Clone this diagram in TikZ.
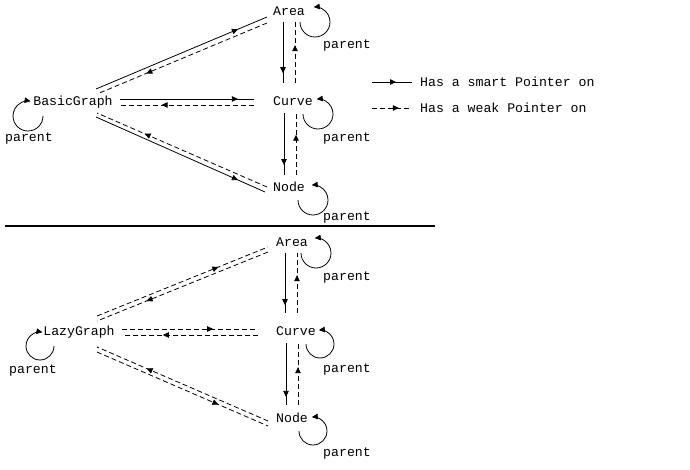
\documentclass[tikz,border=0pt]{standalone}
\usepackage{fontspec}
\setmonofont{Liberation Mono}
\usetikzlibrary{arrows.meta,decorations.markings,calc}
\tikzset{
 lbl/.style={font=\ttfamily\fontsize{13.2}{15}\selectfont, inner sep=0pt, anchor=mid, yshift=-2pt},
 smart/.style={line width=0.8pt, postaction={decorate},
   decoration={markings, mark=at position #1 with {\arrow{Triangle[length=6pt,width=5.5pt]}}}},
 weak/.style={smart=#1, dash pattern=on 5pt off 3pt},
 loopline/.style={line width=0.8pt, -{Triangle[length=6pt,width=5.5pt]}},
 sepline/.style={line width=2pt},
}
\begin{document}
\begin{tikzpicture}[x=1pt,y=1pt]
\useasboundingbox (0,0) rectangle (690,-470);
% ---------- top half ----------
\node[lbl] (areaT) at (289,-11) {Area};
\node[lbl] (curveT) at (293,-101) {Curve};
\node[lbl] (nodeT) at (289,-187) {Node};
\node[lbl] (bg) at (73,-101) {BasicGraph};
\node[lbl] (pAT) at (347,-44) {parent};
\node[lbl] (pCT) at (347,-137) {parent};
\node[lbl] (pNT) at (347,-216) {parent};
\node[lbl] (pBG) at (29,-137) {parent};
% connectors BG <-> Area
\coordinate (bgA1) at (96,-89); \coordinate (aBG1) at (267,-17);
\draw[smart=0.83] (bgA1) -- (aBG1);
\coordinate (aBG2) at (267,-23); \coordinate (bgA2) at (97,-94);
\draw[weak=0.71] (aBG2) -- (bgA2);
% BG <-> Curve
\coordinate (bgC1) at (120,-99); \coordinate (cBG1) at (254,-99);
\draw[smart=0.88] (bgC1) -- (cBG1);
\coordinate (cBG2) at (254,-105); \coordinate (bgC2) at (120,-105);
\draw[weak=0.69] (cBG2) -- (bgC2);
% BG <-> Node
\coordinate (bgN1) at (96,-117); \coordinate (nBG1) at (265,-192);
\draw[smart=0.84] (bgN1) -- (nBG1);
\coordinate (nBG2) at (267,-187); \coordinate (bgN2) at (97,-113);
\draw[weak=0.72] (nBG2) -- (bgN2);
% Area <-> Curve
\coordinate (aC1) at (283,-22); \coordinate (cA1) at (283,-83);
\draw[smart=0.84] (aC1) -- (cA1);
\coordinate (cA2) at (295,-83); \coordinate (aC2) at (295,-22);
\draw[weak=0.62] (cA2) -- (aC2);
% Curve <-> Node
\coordinate (cN1) at (284,-113); \coordinate (nC1) at (284,-175);
\draw[smart=0.84] (cN1) -- (nC1);
\coordinate (nC2) at (296,-175); \coordinate (cN2) at (296,-113);
\draw[weak=0.65] (nC2) -- (cN2);
% self loops
\coordinate (lAT) at (300,-22);
\draw[loopline] (lAT) arc[start angle=180, end angle=455, radius=15pt];
\coordinate (lCT) at (303,-114);
\draw[loopline] (lCT) arc[start angle=180, end angle=455, radius=15pt];
\coordinate (lNT) at (298,-200);
\draw[loopline] (lNT) arc[start angle=180, end angle=455, radius=15pt];
\coordinate (lBG) at (43,-116);
\draw[loopline] (lBG) arc[start angle=0, end angle=-280, radius=15pt];
% legend
\coordinate (l1a) at (372,-82); \coordinate (l1b) at (412,-82);
\draw[smart=0.6] (l1a) -- (l1b);
\coordinate (l2a) at (372,-108); \coordinate (l2b) at (412,-108);
\draw[weak=0.67] (l2a) -- (l2b);
\node[lbl, anchor=mid west] (leg1) at (420,-82) {Has a smart Pointer on};
\node[lbl, anchor=mid west] (leg2) at (420,-108) {Has a weak Pointer on};
% separator
\coordinate (s1) at (5,-226); \coordinate (s2) at (435,-226);
\draw[sepline] (s1) -- (s2);
% ---------- bottom half ----------
\node[lbl] (areaB) at (292,-242) {Area};
\node[lbl] (curveB) at (296,-331) {Curve};
\node[lbl] (nodeB) at (292,-418) {Node};
\node[lbl] (lg) at (79,-331) {LazyGraph};
\node[lbl] (pAB) at (347,-276) {parent};
\node[lbl] (pCB) at (347,-368) {parent};
\node[lbl] (pNB) at (347,-452) {parent};
\node[lbl] (pLG) at (33,-369) {parent};
% LG <-> Area
\coordinate (lgA1) at (97,-316); \coordinate (aLG1) at (268,-247);
\draw[weak=0.71] (lgA1) -- (aLG1);
\coordinate (aLG2) at (268,-252); \coordinate (lgA2) at (97,-321);
\draw[weak=0.71] (aLG2) -- (lgA2);
% LG <-> Curve
\coordinate (lgC1) at (122,-329); \coordinate (cLG1) at (258,-329);
\draw[weak=0.67] (lgC1) -- (cLG1);
\coordinate (cLG2) at (258,-335); \coordinate (lgC2) at (122,-335);
\draw[weak=0.70] (cLG2) -- (lgC2);
% LG <-> Node
\coordinate (nLG1) at (268,-421); \coordinate (lgN1) at (97,-347);
\draw[weak=0.71] (nLG1) -- (lgN1);
\coordinate (lgN2) at (97,-352); \coordinate (nLG2) at (268,-426);
\draw[weak=0.71] (lgN2) -- (nLG2);
% Area <-> Curve
\coordinate (aCB1) at (285,-253); \coordinate (cAB1) at (285,-313);
\draw[smart=0.87] (aCB1) -- (cAB1);
\coordinate (cAB2) at (297,-313); \coordinate (aCB2) at (297,-253);
\draw[weak=0.63] (cAB2) -- (aCB2);
% Curve <-> Node
\coordinate (cNB1) at (286,-343); \coordinate (nCB1) at (286,-405);
\draw[smart=0.87] (cNB1) -- (nCB1);
\coordinate (nCB2) at (298,-405); \coordinate (cNB2) at (298,-343);
\draw[weak=0.61] (nCB2) -- (cNB2);
% self loops
\coordinate (lAB) at (301,-253);
\draw[loopline] (lAB) arc[start angle=180, end angle=455, radius=15pt];
\coordinate (lCB) at (306,-344);
\draw[loopline] (lCB) arc[start angle=180, end angle=455, radius=14pt];
\coordinate (lNB) at (299,-431);
\draw[loopline] (lNB) arc[start angle=180, end angle=455, radius=14pt];
\coordinate (lLG) at (54,-346);
\draw[loopline] (lLG) arc[start angle=0, end angle=-280, radius=14pt];
\end{tikzpicture}
\end{document}
